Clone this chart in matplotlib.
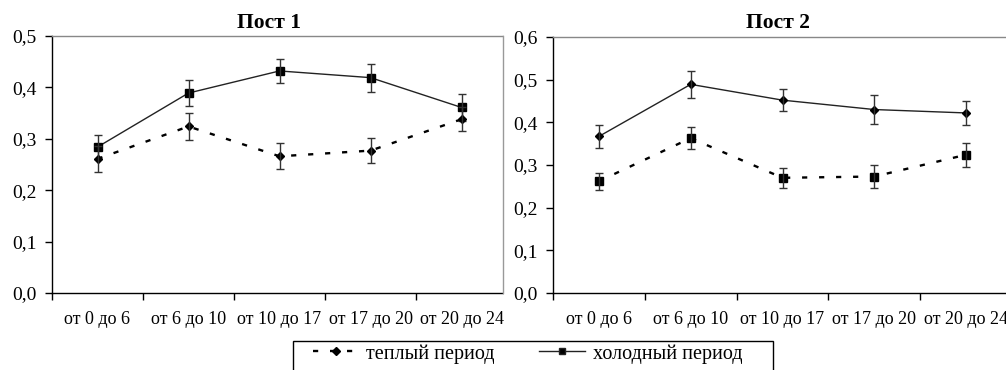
import matplotlib
matplotlib.use("Agg")
import matplotlib.pyplot as plt
from matplotlib.patches import Rectangle
from matplotlib.lines import Line2D

plt.rcParams['font.family'] = ['Liberation Serif', 'DejaVu Serif']

categories = ["от 0 до 6", "от 6 до 10", "от 10 до 17", "от 17 до 20", "от 20 до 24"]

# Пост 1
p1_warm = [0.261, 0.324, 0.266, 0.277, 0.338]
p1_warm_err = [0.025, 0.026, 0.025, 0.025, 0.023]
p1_cold = [0.284, 0.389, 0.432, 0.419, 0.361]
p1_cold_err = [0.024, 0.025, 0.024, 0.027, 0.027]

# Пост 2
p2_warm = [0.262, 0.363, 0.270, 0.273, 0.324]
p2_warm_err = [0.020, 0.026, 0.023, 0.028, 0.028]
p2_cold = [0.367, 0.489, 0.452, 0.430, 0.422]
p2_cold_err = [0.027, 0.031, 0.025, 0.033, 0.029]

x = list(range(len(categories)))

fig = plt.figure(figsize=(10.06, 3.70), dpi=100)
W, H = 1006, 370

def make_ax(left, right, top, bottom, ymax):
    ax = fig.add_axes([left / W, 1 - bottom / H, (right - left) / W, (bottom - top) / H])
    ax.set_xlim(-0.5, 4.5)
    ax.set_ylim(0, ymax)
    ax.set_xticks([i - 0.5 for i in range(6)])
    ax.set_xticklabels([])
    ax.set_xticks(x, minor=True)
    ax.set_xticklabels(categories, minor=True, fontsize=13)
    ax.tick_params(axis='x', which='major', direction='out', length=5, width=1)
    ax.tick_params(axis='x', which='minor', length=0, pad=13)
    ax.tick_params(axis='y', direction='out', length=5, width=1, labelsize=14, pad=6)
    ax.spines['top'].set_color('#888888')
    ax.spines['right'].set_color('#888888')
    for s in ('left', 'bottom'):
        ax.spines[s].set_color('black')
    for s in ax.spines.values():
        s.set_linewidth(1)
    return ax

def fmt(v):
    return f"{v:.1f}".replace('.', ',')

def draw(ax, vals, errs, ls, marker, ms):
    kw = dict(color='#222222', lw=1.0)
    if ls == 'dash':
        kw = dict(color='black', lw=1.7, dashes=(2.2, 5.0))
    ax.plot(x, vals, marker=marker, ms=ms, mfc='black', mec='black', **kw)
    ax.errorbar(x, vals, yerr=errs, fmt='none', ecolor='#333333', elinewidth=1,
                capsize=3, capthick=1)

ax1 = make_ax(52, 507, 36, 293, 0.5)
ax1.set_yticks([0, 0.1, 0.2, 0.3, 0.4, 0.5])
ax1.set_yticklabels([fmt(v) for v in ax1.get_yticks()])
draw(ax1, p1_cold, p1_cold_err, 'solid', 's', 5.5)
draw(ax1, p1_warm, p1_warm_err, 'dash', 'D', 4.2)
fig.text(269 / W, 1 - 23 / H, "Пост 1", ha='center', va='center',
         fontsize=15.5, fontweight='bold')

# right chart overlaps the left one
fig.patches.append(Rectangle((504 / W, 0.12), 1 - 504 / W, 0.88, transform=fig.transFigure,
                             facecolor='white', edgecolor='none', zorder=0.5))
fig.lines.append(Line2D([503 / W, 503 / W], [1 - 293 / H, 1 - 36 / H], transform=fig.transFigure,
                        color='#999999', lw=1, zorder=0.6))

ax2 = make_ax(553, 1012, 37, 293, 0.6)
ax2.set_zorder(1)
ax2.set_yticks([0, 0.1, 0.2, 0.3, 0.4, 0.5, 0.6])
ax2.set_yticklabels([fmt(v) for v in ax2.get_yticks()])
draw(ax2, p2_cold, p2_cold_err, 'solid', 'D', 4.2)
draw(ax2, p2_warm, p2_warm_err, 'dash', 's', 5.5)
fig.text(778 / W, 1 - 23 / H, "Пост 2", ha='center', va='center',
         fontsize=15.5, fontweight='bold')

# legend frame (runs off the bottom edge)
fig.patches.append(Rectangle((293 / W, -0.1), 480 / W, 0.1 + 1 - 341 / H, transform=fig.transFigure,
                             facecolor='white', edgecolor='black', lw=1, zorder=2))
handles = [
    Line2D([], [], color='black', lw=1.7, dashes=(2.2, 5.0), marker='D', ms=4, mfc='black'),
    Line2D([], [], color='#222222', lw=1.0, marker='s', ms=5, mfc='black'),
]
leg = fig.legend(handles, ["теплый период", "холодный период"], ncol=2,
                 loc='upper left', bbox_to_anchor=(313 / W, 1 - 344 / H),
                 fontsize=14.5, frameon=False, borderpad=0, borderaxespad=0,
                 handlelength=2.3, columnspacing=2.2, handletextpad=0.35)
leg.set_zorder(3)

fig.savefig("out.png", dpi=100)
